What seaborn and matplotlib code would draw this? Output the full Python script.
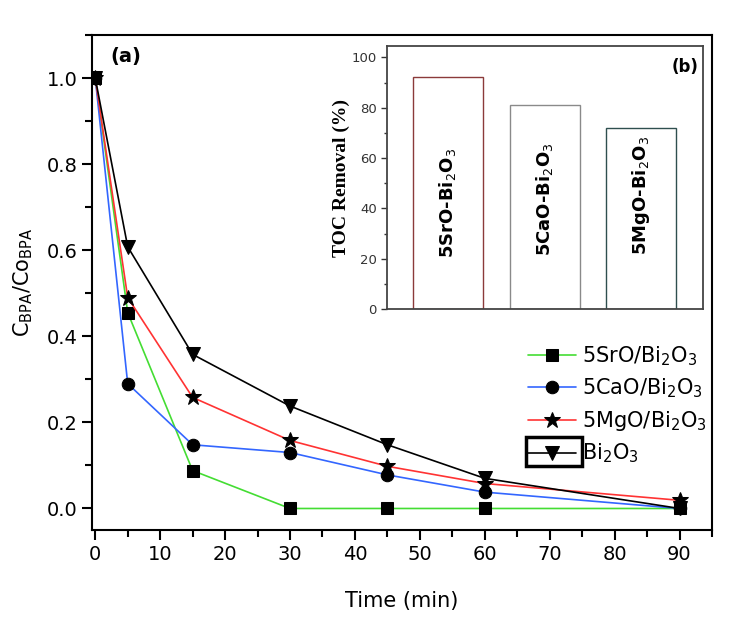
import matplotlib
matplotlib.use('Agg')
import matplotlib.pyplot as plt
from matplotlib.patches import Rectangle
from matplotlib.ticker import MultipleLocator
import pandas as pd
import seaborn as sns

# Data
time_min = [0, 5, 15, 30, 45, 60, 90]
sro = [1.0, 0.455, 0.088, 0.0, 0.0, 0.0, 0.0]
cao = [1.0, 0.29, 0.148, 0.13, 0.078, 0.038, 0.0]
mgo = [1.0, 0.49, 0.258, 0.158, 0.098, 0.058, 0.019]
bi2o3 = [1.0, 0.608, 0.358, 0.238, 0.148, 0.07, 0.0]

series_labels = ['5SrO/Bi$_2$O$_3$', '5CaO/Bi$_2$O$_3$', '5MgO/Bi$_2$O$_3$', 'Bi$_2$O$_3$']
series_colors = ['#44dd33', '#3366ff', '#ff3333', 'black']
series_markers = ['s', 'o', '*', 'v']
series_sizes = [8, 9, 12, 10]

toc_cats = ['5SrO-Bi$_2$O$_3$', '5CaO-Bi$_2$O$_3$', '5MgO-Bi$_2$O$_3$']
toc_removal = [92, 81, 72]
toc_edges = ['#8b3a3a', '#8a8a8a', '#2f4f4f']

sns.set_style('ticks')
plt.rcParams['font.family'] = ['DejaVu Sans']
plt.rcParams['mathtext.fontset'] = 'dejavusans'
plt.rcParams['text.color'] = 'black'
plt.rcParams['axes.labelcolor'] = 'black'
plt.rcParams['xtick.color'] = 'black'
plt.rcParams['ytick.color'] = 'black'

fig = plt.figure(figsize=(7.29, 6.17), dpi=100)
ax = fig.add_axes([0.1262, 0.141, 0.8505, 0.8023])

# Main kinetics curves
for vals, lab, c, m, ms in zip([sro, cao, mgo, bi2o3], series_labels,
                               series_colors, series_markers, series_sizes):
    sns.lineplot(x=time_min, y=vals, ax=ax, color=c, marker=m, markersize=ms,
                 markerfacecolor='black', markeredgecolor='black',
                 linewidth=1.2, label=lab)

ax.set_xlim(-0.5, 95)
ax.set_ylim(-0.05, 1.1)
ax.xaxis.set_major_locator(MultipleLocator(10))
ax.xaxis.set_minor_locator(MultipleLocator(5))
ax.yaxis.set_major_locator(MultipleLocator(0.2))
ax.yaxis.set_minor_locator(MultipleLocator(0.1))
ax.yaxis.set_major_formatter(plt.FormatStrFormatter('%.1f'))
ax.tick_params(which='major', direction='out', length=7, width=1.5, labelsize=14)
ax.tick_params(which='minor', direction='out', length=5, width=1.5)
for s in ax.spines.values():
    s.set_linewidth(1.5)
    s.set_color('black')
ax.set_xlabel('Time (min)', fontsize=15, labelpad=20)
ax.set_ylabel('C$_{\\mathrm{BPA}}$/Co$_{\\mathrm{BPA}}$', fontsize=15, labelpad=8)
ax.text(0.03, 0.945, '(a)', transform=ax.transAxes, fontsize=14, fontweight='bold')

leg = ax.legend(loc='upper left', bbox_to_anchor=(0.703, 0.375), frameon=False,
                fontsize=15, handlelength=2.3, handletextpad=0.3,
                labelspacing=0.42, borderpad=0, borderaxespad=0)

# box drawn around the Bi2O3 legend handle in the reference
fig.add_artist(Rectangle((526 / 729, 1 - 466 / 617), 56 / 729, 29 / 617,
                         transform=fig.transFigure, fill=False,
                         edgecolor='black', linewidth=2.5))

# Inset: TOC removal
ins = fig.add_axes([0.531, 0.4992, 0.4335, 0.4262])
toc_df = pd.DataFrame({'cat': toc_cats, 'toc': toc_removal})
sns.barplot(data=toc_df, x='cat', y='toc', hue='cat', palette=toc_edges,
            fill=False, width=0.725, linewidth=1.0, legend=False, ax=ins)
for i, lab in enumerate(toc_cats):
    ins.text(i, 42 + i * 1.5, lab, rotation=90, ha='center', va='center',
             fontsize=13, fontweight='bold')
ins.set_xlim(-0.63, 2.64)
ins.set_ylim(0, 104.5)
ins.set_xticks([])
ins.set_xlabel('')
ins.yaxis.set_major_locator(MultipleLocator(20))
ins.yaxis.set_minor_locator(MultipleLocator(10))
ins.tick_params(which='major', direction='out', length=4, width=1, labelsize=9.5,
                colors='#333333')
ins.tick_params(which='minor', direction='out', length=2.5, width=1, colors='#333333')
for s in ins.spines.values():
    s.set_linewidth(1.3)
    s.set_color('#444444')
ins.set_ylabel('TOC Removal (%)', fontsize=14, fontweight='bold',
               family='Liberation Serif', labelpad=1)
ins.text(0.9, 0.9, '(b)', transform=ins.transAxes, fontsize=12, fontweight='bold')

fig.savefig('out.png', dpi=100)
